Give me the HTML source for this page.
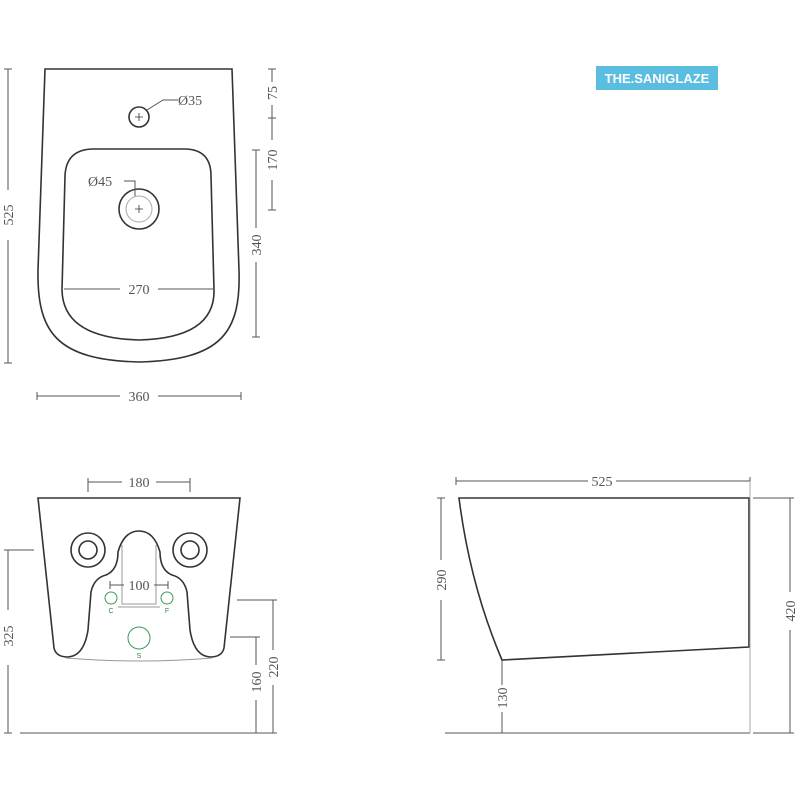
<!DOCTYPE html>
<html><head><style>html,body{margin:0;padding:0;background:#fff;width:800px;height:800px;overflow:hidden}</style></head><body>
<svg width="800" height="800" viewBox="0 0 800 800" xmlns="http://www.w3.org/2000/svg" font-family="Liberation Serif, serif" font-size="14" fill="none">
<!-- logo -->
<rect x="596" y="66" width="122" height="24" fill="#5bbde0"/>
<text x="657" y="83" fill="#fff" font-family="Liberation Sans, sans-serif" font-weight="bold" font-size="13" text-anchor="middle">THE.SANIGLAZE</text>

<!-- TOP VIEW -->
<g stroke="#333" stroke-width="1.6">
<path d="M45,69 L232,69 L239,270 C241,332 222,360 139,362 C56,360 37,332 38,270 Z"/>
<path d="M92,149 L186,149 Q211,150 211,176 L214,290 Q215,338 139,340 Q63,338 62,290 L65,176 Q66,150 92,149 Z"/>
<circle cx="139" cy="117" r="10"/>
<circle cx="139" cy="209" r="20"/>
</g>
<circle cx="139" cy="209" r="13" stroke="#aaa" stroke-width="1"/>
<g stroke="#333" stroke-width="0.8"><path d="M135,117h8M139,113v8M135,209h8M139,205v8"/></g>
<g stroke="#555" stroke-width="1">
<path d="M147,110 L163,100 L178,100"/>
<path d="M124,181 L135,181 L135,196"/>
<path d="M64,289 H120 M158,289 H213"/>
<path d="M8,69 V190 M8,240 V363 M4,69h8 M4,363h8"/>
<path d="M272,69 V82 M272,105 V118 M268,69h8 M268,118h8 M272,118 V140 M272,180 V210 M268,210h8"/>
<path d="M256,150 V228 M256,262 V337 M252,150h8 M252,337h8"/>
<path d="M37,396 H120 M158,396 H241 M37,392v8 M241,392v8"/>
</g>
<g fill="#555">
<text x="178" y="105">Ø35</text>
<text x="88" y="186">Ø45</text>
<text x="139" y="294" text-anchor="middle">270</text>
<text x="139" y="401" text-anchor="middle">360</text>
<text transform="translate(13,215) rotate(-90)" text-anchor="middle">525</text>
<text transform="translate(277,93) rotate(-90)" text-anchor="middle">75</text>
<text transform="translate(277,160) rotate(-90)" text-anchor="middle">170</text>
<text transform="translate(261,245) rotate(-90)" text-anchor="middle">340</text>
</g>

<!-- FRONT VIEW -->
<g stroke="#333" stroke-width="1.6">
<path d="M38,498 L240,498 L224,648 Q222,657 210,657 Q194,656 190,630 L187,592 Q184,578 172,575 Q160,570 160,552 Q154,531 139,531 Q124,531 118,552 Q118,570 106,575 Q94,578 91,592 L88,630 Q84,656 68,657 Q56,657 54,648 Z"/>
<circle cx="88" cy="550" r="17"/><circle cx="88" cy="550" r="9"/>
<circle cx="190" cy="550" r="17"/><circle cx="190" cy="550" r="9"/>
</g>
<g stroke="#999" stroke-width="1">
<path d="M66,658 Q139,664 212,658"/>
<path d="M122,545 V604 H156 V545"/>
<path d="M118,607 H160"/>
</g>
<g stroke="#3a9a5a" stroke-width="1"><circle cx="111" cy="598" r="6"/><circle cx="167" cy="598" r="6"/><circle cx="139" cy="638" r="11"/></g>
<g fill="#3a7a5a" font-family="Liberation Sans, sans-serif" font-size="7"><text x="111" y="613" text-anchor="middle">C</text><text x="167" y="613" text-anchor="middle">F</text><text x="139" y="658" text-anchor="middle">S</text></g>
<g stroke="#555" stroke-width="1">
<path d="M88,482 H122 M156,482 H190 M88,478 V492 M190,478 V492"/>
<path d="M110,585 H124 M154,585 H168 M110,581v8 M168,581v8"/>
<path d="M34,550 H8 V610 M8,665 V733 M4,550h8 M4,733h8"/>
<path d="M20,733 H270"/>
<path d="M237,600 H273 V650 M273,685 V733 M269,600h8 M269,733h8"/>
<path d="M230,637 H256 V665 M256,700 V733 M252,637h8"/>
</g>
<g fill="#555">
<text x="139" y="487" text-anchor="middle">180</text>
<text x="139" y="590" text-anchor="middle">100</text>
<text transform="translate(13,636) rotate(-90)" text-anchor="middle">325</text>
<text transform="translate(278,667) rotate(-90)" text-anchor="middle">220</text>
<text transform="translate(261,682) rotate(-90)" text-anchor="middle">160</text>
</g>

<!-- SIDE VIEW -->
<g stroke="#333" stroke-width="1.6">
<path d="M459,498 L749,498 L749,647 L502,660 Q470,585 459,498 Z"/>
</g>
<g stroke="#555" stroke-width="1">
<path d="M456,481 H588 M616,481 H750 M456,477v8 M750,477v8"/>
<path d="M441,498 V560 M441,600 V660 M437,498h8 M437,660h8"/>
<path d="M502,660 V685 M502,712 V733 M498,733h8"/>
<path d="M445,733 H750"/>
<path d="M750,481 V733" stroke="#aaa"/>
<path d="M753,498 H790 V592 M790,630 V733 M753,733 H790 M786,498h8 M786,733h8"/>
</g>
<g fill="#555">
<text x="602" y="486" text-anchor="middle">525</text>
<text transform="translate(446,580) rotate(-90)" text-anchor="middle">290</text>
<text transform="translate(507,698) rotate(-90)" text-anchor="middle">130</text>
<text transform="translate(795,611) rotate(-90)" text-anchor="middle">420</text>
</g>
</svg>
</body></html>
